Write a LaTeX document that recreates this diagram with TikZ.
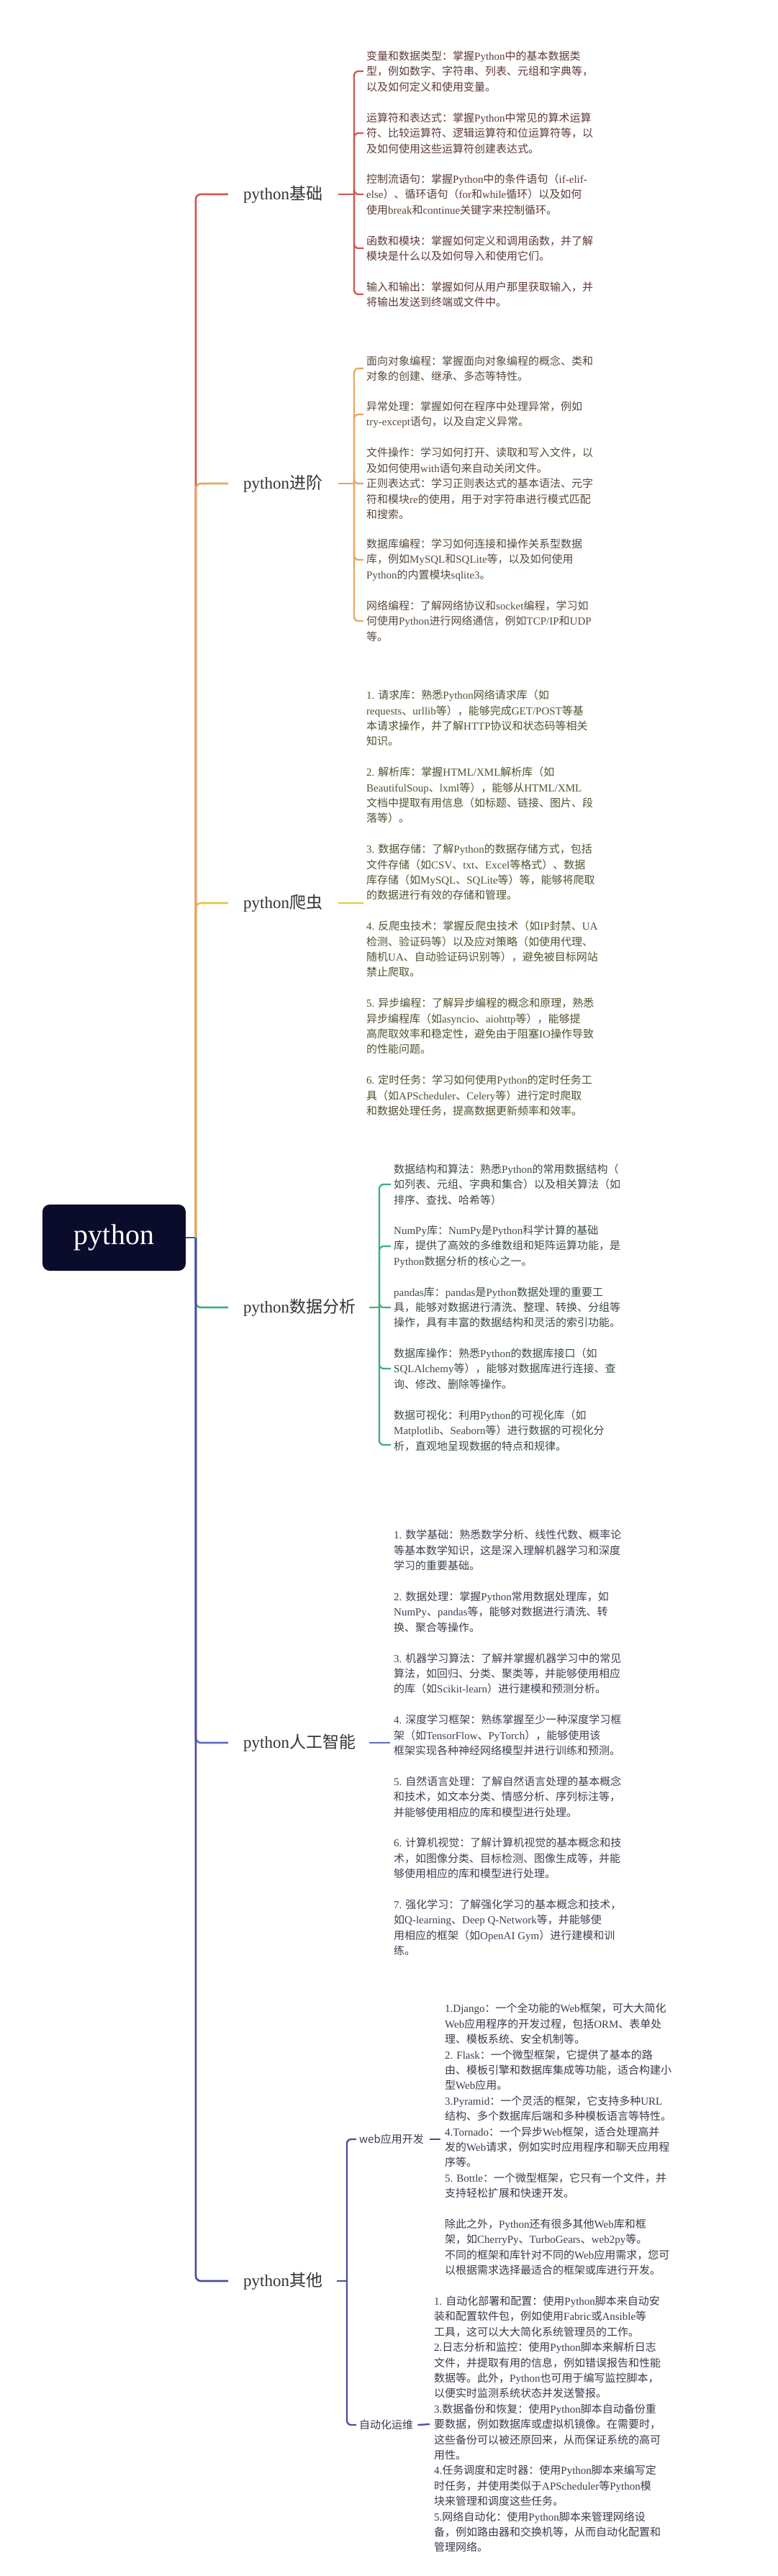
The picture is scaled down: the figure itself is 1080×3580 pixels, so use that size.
\documentclass[tikz,border=0pt]{standalone}
\usepackage{fontspec}
\setmainfont{Liberation Serif}
\newfontfamily\cjkfont{Noto Sans CJK SC}
\newfontfamily\serifLatin{Liberation Serif}
\newcommand\curlatin{\serifLatin}
\newcount\cjkc
\newXeTeXintercharclass\CJKcls
\cjkc="4E00 \loop \XeTeXcharclass\cjkc=\CJKcls \ifnum\cjkc<"9FFF \advance\cjkc by 1 \repeat
\cjkc="3000 \loop \XeTeXcharclass\cjkc=\CJKcls \ifnum\cjkc<"303F \advance\cjkc by 1 \repeat
\cjkc="FF00 \loop \XeTeXcharclass\cjkc=\CJKcls \ifnum\cjkc<"FFEF \advance\cjkc by 1 \repeat
\XeTeXinterchartoks 0 \CJKcls = {\cjkfont}
\XeTeXinterchartoks 4095 \CJKcls = {\cjkfont}
\XeTeXinterchartoks \CJKcls 0 = {\curlatin}
\XeTeXinterchartoks 4095 0 = {\curlatin}
\XeTeXinterchartokenstate=1

\definecolor{cred}{HTML}{D0574F}
\definecolor{corange}{HTML}{E6A660}
\definecolor{cyellow}{HTML}{E3C93A}
\definecolor{cgreen}{HTML}{3FAE7B}
\definecolor{cblue}{HTML}{5B6CC2}
\definecolor{cpurple}{HTML}{4B4D9D}
\definecolor{croot}{HTML}{0B0C2C}
\definecolor{tred}{HTML}{5E3A38}
\definecolor{torange}{HTML}{574A3D}
\definecolor{tyellow}{HTML}{53512F}
\definecolor{tgreen}{HTML}{3D4B45}
\definecolor{tblue}{HTML}{3D4152}
\definecolor{tpurple}{HTML}{3B3B4D}
\definecolor{tlabel}{HTML}{333333}

\tikzset{
  item/.style={anchor=west, align=left, inner sep=0pt, font=\fontsize{15}{21.4}\selectfont},
  blabel/.style={anchor=west, inner sep=0pt, text=tlabel, font=\fontsize{23}{28}\selectfont},
  slabel/.style={anchor=west, inner sep=0pt, text=tpurple, font=\fontsize{15}{20}\selectfont\let\curlatin\cjkfont\cjkfont},
  trunk/.style={line width=2.6pt, rounded corners=7pt},
  twig/.style={line width=2.3pt, rounded corners=6pt},
}

\begin{document}
\begin{tikzpicture}[x=1pt,y=-1pt]
\fill[white] (0,0) rectangle (1080,3580);
\useasboundingbox (0,0) rectangle (1080,3580);

% root
\node[fill=croot, rounded corners=10pt, minimum width=199pt, minimum height=92pt, inner sep=0pt,
      text=white, font=\fontsize{40}{44}\selectfont] (root) at (158.5,1720) {python};
\coordinate (tj) at (272,1720);

% branch labels
\node[blabel] (b0) at (338,270) {python基础};
\node[blabel] (j0) at (338,672) {python进阶};
\node[blabel] (c0) at (338,1255) {python爬虫};
\node[blabel] (d0) at (338,1817) {python数据分析};
\node[blabel] (a0) at (338,2422) {python人工智能};
\node[blabel] (o0) at (338,3170) {python其他};

% trunk
\draw[cpurple,trunk] (root.east) -- (tj);
\draw[cred,trunk] (tj) |- ([xshift=-21pt]b0.west);
\draw[cyellow,trunk] (tj) |- ([xshift=-21pt]c0.west);
\draw[corange,trunk] (tj) |- ([xshift=-21pt]j0.west);
\draw[cgreen,trunk] (tj) |- ([xshift=-21pt]d0.west);
\draw[cblue,trunk] (tj) |- ([xshift=-21pt]a0.west);
\draw[cpurple,trunk] (tj) |- ([xshift=-21pt]o0.west);

% ---------- python基础
\node[item,text=tred] (b1) at (509,99) {变量和数据类型：掌握Python中的基本数据类\\型，例如数字、字符串、列表、元组和字典等，\\以及如何定义和使用变量。};
\node[item,text=tred] (b2) at (509,185) {运算符和表达式：掌握Python中常见的算术运算\\符、比较运算符、逻辑运算符和位运算符等，以\\及如何使用这些运算符创建表达式。};
\node[item,text=tred] (b3) at (509,270) {控制流语句：掌握Python中的条件语句（if-elif-\\else）、循环语句（for和while循环）以及如何\\使用break和continue关键字来控制循环。};
\node[item,text=tred] (b4) at (509,345) {函数和模块：掌握如何定义和调用函数，并了解\\模块是什么以及如何导入和使用它们。};
\node[item,text=tred] (b5) at (509,409) {输入和输出：掌握如何从用户那里获取输入，并\\将输出发送到终端或文件中。};
\coordinate (bb) at (492,270);
\draw[cred,twig] ([xshift=22pt]b0.east) -- (bb);
\foreach \n in {1,...,5} \draw[cred,twig] (bb) |- ([xshift=-4pt]b\n.west);

% ---------- python进阶
\node[item,text=torange] (j1) at (509,512) {面向对象编程：掌握面向对象编程的概念、类和\\对象的创建、继承、多态等特性。};
\node[item,text=torange] (j2) at (509,576) {异常处理：掌握如何在程序中处理异常，例如\\try-except语句，以及自定义异常。};
\node[item,text=torange] (j3) at (509,672) {文件操作：学习如何打开、读取和写入文件，以\\及如何使用with语句来自动关闭文件。\\正则表达式：学习正则表达式的基本语法、元字\\符和模块re的使用，用于对字符串进行模式匹配\\和搜索。};
\node[item,text=torange] (j4) at (509,778) {数据库编程：学习如何连接和操作关系型数据\\库，例如MySQL和SQLite等，以及如何使用\\Python的内置模块sqlite3。};
\node[item,text=torange] (j5) at (509,863) {网络编程：了解网络协议和socket编程，学习如\\何使用Python进行网络通信，例如TCP/IP和UDP\\等。};
\coordinate (jb) at (492,672);
\draw[corange,twig] ([xshift=22pt]j0.east) -- (jb);
\foreach \n in {1,...,5} \draw[corange,twig] (jb) |- ([xshift=-4pt]j\n.west);

% ---------- python爬虫
\node[item,text=tyellow] (c1) at (509,1255) {1. 请求库：熟悉Python网络请求库（如\\requests、urllib等），能够完成GET/POST等基\\本请求操作，并了解HTTP协议和状态码等相关\\知识。\\\mbox{}\\2. 解析库：掌握HTML/XML解析库（如\\BeautifulSoup、lxml等），能够从HTML/XML\\文档中提取有用信息（如标题、链接、图片、段\\落等）。\\\mbox{}\\3. 数据存储：了解Python的数据存储方式，包括\\文件存储（如CSV、txt、Excel等格式）、数据\\库存储（如MySQL、SQLite等）等，能够将爬取\\的数据进行有效的存储和管理。\\\mbox{}\\4. 反爬虫技术：掌握反爬虫技术（如IP封禁、UA\\检测、验证码等）以及应对策略（如使用代理、\\随机UA、自动验证码识别等），避免被目标网站\\禁止爬取。\\\mbox{}\\5. 异步编程：了解异步编程的概念和原理，熟悉\\异步编程库（如asyncio、aiohttp等），能够提\\高爬取效率和稳定性，避免由于阻塞IO操作导致\\的性能问题。\\\mbox{}\\6. 定时任务：学习如何使用Python的定时任务工\\具（如APScheduler、Celery等）进行定时爬取\\和数据处理任务，提高数据更新频率和效率。};
\draw[cyellow,twig] ([xshift=22pt]c0.east) -- ([xshift=-4pt]c1.west);

% ---------- python数据分析
\node[item,text=tgreen] (d1) at (547,1646) {数据结构和算法：熟悉Python的常用数据结构（\\如列表、元组、字典和集合）以及相关算法（如\\排序、查找、哈希等）};
\node[item,text=tgreen] (d2) at (547,1732) {NumPy库：NumPy是Python科学计算的基础\\库，提供了高效的多维数组和矩阵运算功能，是\\Python数据分析的核心之一。};
\node[item,text=tgreen] (d3) at (547,1817) {pandas库：pandas是Python数据处理的重要工\\具，能够对数据进行清洗、整理、转换、分组等\\操作，具有丰富的数据结构和灵活的索引功能。};
\node[item,text=tgreen] (d4) at (547,1902) {数据库操作：熟悉Python的数据库接口（如\\SQLAlchemy等），能够对数据库进行连接、查\\询、修改、删除等操作。};
\node[item,text=tgreen] (d5) at (547,1988) {数据可视化：利用Python的可视化库（如\\Matplotlib、Seaborn等）进行数据的可视化分\\析，直观地呈现数据的特点和规律。};
\coordinate (db) at (527,1817);
\draw[cgreen,twig] ([xshift=19pt]d0.east) -- (db);
\foreach \n in {1,...,4} \draw[cgreen,twig] (db) |- ([xshift=-4pt]d\n.west);
\draw[cgreen,twig] (db) |- ([xshift=-4pt,yshift=-20pt]d5.west);

% ---------- python人工智能
\node[item,text=tblue] (a1) at (547,2422) {1. 数学基础：熟悉数学分析、线性代数、概率论\\等基本数学知识，这是深入理解机器学习和深度\\学习的重要基础。\\\mbox{}\\2. 数据处理：掌握Python常用数据处理库，如\\NumPy、pandas等，能够对数据进行清洗、转\\换、聚合等操作。\\\mbox{}\\3. 机器学习算法：了解并掌握机器学习中的常见\\算法，如回归、分类、聚类等，并能够使用相应\\的库（如Scikit-learn）进行建模和预测分析。\\\mbox{}\\4. 深度学习框架：熟练掌握至少一种深度学习框\\架（如TensorFlow、PyTorch），能够使用该\\框架实现各种神经网络模型并进行训练和预测。\\\mbox{}\\5. 自然语言处理：了解自然语言处理的基本概念\\和技术，如文本分类、情感分析、序列标注等，\\并能够使用相应的库和模型进行处理。\\\mbox{}\\6. 计算机视觉：了解计算机视觉的基本概念和技\\术，如图像分类、目标检测、图像生成等，并能\\够使用相应的库和模型进行处理。\\\mbox{}\\7. 强化学习：了解强化学习的基本概念和技术，\\如Q-learning、Deep Q-Network等，并能够使\\用相应的框架（如OpenAI Gym）进行建模和训\\练。};
\draw[cblue,twig] ([xshift=19pt]a0.east) -- ([xshift=-5pt]a1.west);

% ---------- python其他
\node[slabel] (w0) at (499,2973) {web应用开发};
\node[slabel] (z0) at (499,3370) {自动化运维};
\coordinate (ob) at (482,3170);
\draw[cpurple,twig] ([xshift=20pt]o0.east) -- (ob);
\draw[cpurple,twig] (ob) |- ([xshift=-4pt]w0.west);
\draw[cpurple,twig] (ob) |- ([xshift=-4pt]z0.west);

\node[item,text=tpurple] (w1) at (618,2973) {1.Django：一个全功能的Web框架，可大大简化\\Web应用程序的开发过程，包括ORM、表单处\\理、模板系统、安全机制等。\\2. Flask：一个微型框架，它提供了基本的路\\由、模板引擎和数据库集成等功能，适合构建小\\型Web应用。\\3.Pyramid：一个灵活的框架，它支持多种URL\\结构、多个数据库后端和多种模板语言等特性。\\4.Tornado：一个异步Web框架，适合处理高并\\发的Web请求，例如实时应用程序和聊天应用程\\序等。\\5. Bottle：一个微型框架，它只有一个文件，并\\支持轻松扩展和快速开发。\\\mbox{}\\除此之外，Python还有很多其他Web库和框\\架，如CherryPy、TurboGears、web2py等。\\不同的框架和库针对不同的Web应用需求，您可\\以根据需求选择最适合的框架或库进行开发。};
\node[item,text=tpurple] (z1) at (603,3369) {1. 自动化部署和配置：使用Python脚本来自动安\\装和配置软件包，例如使用Fabric或Ansible等\\工具，这可以大大简化系统管理员的工作。\\2.日志分析和监控：使用Python脚本来解析日志\\文件，并提取有用的信息，例如错误报告和性能\\数据等。此外，Python也可用于编写监控脚本，\\以便实时监测系统状态并发送警报。\\3.数据备份和恢复：使用Python脚本自动备份重\\要数据，例如数据库或虚拟机镜像。在需要时，\\这些备份可以被还原回来，从而保证系统的高可\\用性。\\4.任务调度和定时器：使用Python脚本来编写定\\时任务，并使用类似于APScheduler等Python模\\块来管理和调度这些任务。\\5.网络自动化：使用Python脚本来管理网络设\\备，例如路由器和交换机等，从而自动化配置和\\管理网络。};
\draw[cpurple,twig] ([xshift=8pt]w0.east) -- ([xshift=-6pt]w1.west);
\draw[cpurple,twig] ([xshift=6pt]z0.east) -- ([xshift=-6pt]z1.west);
\end{tikzpicture}
\end{document}
